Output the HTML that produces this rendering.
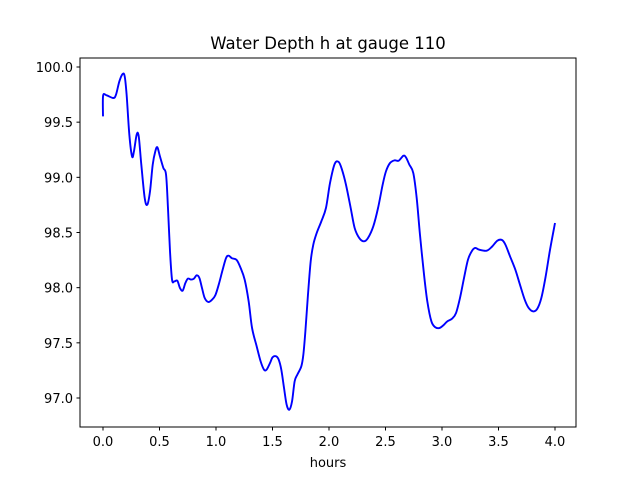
<!DOCTYPE html>
<html><head><meta charset="utf-8"><style>
html,body{margin:0;padding:0;background:#fff;}
svg text{font-family:"DejaVu Sans","Liberation Sans",sans-serif;}
</style></head><body>
<svg id="chart" width="640" height="480" xmlns="http://www.w3.org/2000/svg">
<rect x="0" y="0" width="640" height="480" fill="#fff"/>
<text x="328" y="49" font-size="16.5" text-anchor="middle">Water Depth h at gauge 110</text>
<g id="xticks"></g>
<g id="yticks"></g>
<path id="series" fill="none" stroke="#0000ff" stroke-width="1.9" stroke-linejoin="round"/>
<rect x="80" y="58" width="496" height="369" fill="none" stroke="#000" stroke-width="1"/>
<text x="328" y="467" font-size="13" text-anchor="middle">hours</text>
</svg>
<script>
const hours = [0,0.001,0.032,0.091,0.115,0.145,0.174,0.192,0.209,0.233,0.257,0.274,0.298,0.316,0.339,0.369,0.392,0.416,0.44,0.463,0.481,0.504,0.534,0.558,0.575,0.593,0.611,0.631,0.658,0.681,0.705,0.729,0.752,0.779,0.805,0.829,0.853,0.876,0.9,0.932,0.965,0.994,1.024,1.059,1.089,1.112,1.142,1.183,1.218,1.254,1.289,1.319,1.36,1.395,1.425,1.448,1.478,1.501,1.531,1.555,1.578,1.602,1.625,1.649,1.673,1.696,1.72,1.755,1.773,1.791,1.814,1.838,1.861,1.891,1.932,1.973,2.009,2.05,2.086,2.115,2.15,2.192,2.227,2.268,2.31,2.345,2.392,2.434,2.475,2.504,2.54,2.581,2.617,2.658,2.681,2.711,2.746,2.776,2.805,2.841,2.87,2.906,2.941,2.976,3.012,3.047,3.089,3.124,3.159,3.195,3.23,3.266,3.295,3.33,3.395,3.443,3.49,3.531,3.561,3.602,3.649,3.69,3.732,3.767,3.808,3.844,3.879,3.915,3.956,4.0];
const depth = [99.553,99.74,99.743,99.719,99.749,99.87,99.937,99.915,99.749,99.387,99.19,99.236,99.387,99.372,99.115,98.813,98.752,98.873,99.115,99.236,99.272,99.19,99.085,99.024,98.722,98.329,98.072,98.057,98.063,97.997,97.973,98.042,98.082,98.073,98.082,98.112,98.088,97.997,97.906,97.87,97.891,97.931,98.027,98.163,98.269,98.29,98.266,98.251,98.178,98.072,97.876,97.635,97.468,97.332,97.257,97.257,97.317,97.369,97.378,97.347,97.257,97.091,96.94,96.894,96.97,97.151,97.212,97.287,97.393,97.604,97.937,98.239,98.39,98.495,98.601,98.722,98.949,99.121,99.139,99.069,98.934,98.722,98.541,98.45,98.42,98.45,98.556,98.722,98.934,99.054,99.13,99.154,99.151,99.196,99.181,99.115,99.039,98.813,98.48,98.118,97.876,97.695,97.641,97.634,97.659,97.695,97.719,97.77,97.906,98.088,98.254,98.335,98.36,98.344,98.335,98.372,98.426,98.432,98.39,98.284,98.163,98.027,97.891,97.816,97.785,97.81,97.906,98.088,98.344,98.586];
const xTickValues = [0,0.5,1,1.5,2,2.5,3,3.5,4];
const xTickLabels = ["0.0","0.5","1.0","1.5","2.0","2.5","3.0","3.5","4.0"];
const yTickValues = [97,97.5,98,98.5,99,99.5,100];
const yTickLabels = ["97.0","97.5","98.0","98.5","99.0","99.5","100.0"];

const NS = "http://www.w3.org/2000/svg";
function xs(v){ return 103 + v*113; }
function ys(v){ return 67 + (100 - v)*110.333; }

const xg = document.getElementById('xticks');
xTickValues.forEach((v,i)=>{
  const l = document.createElementNS(NS,'line');
  l.setAttribute('x1',xs(v)); l.setAttribute('x2',xs(v));
  l.setAttribute('y1',427); l.setAttribute('y2',430.5);
  l.setAttribute('stroke','#000');
  
  
  xg.appendChild(l);
  const t = document.createElementNS(NS,'text');
  t.setAttribute('x',xs(v)); t.setAttribute('y',446);
  t.setAttribute('font-size','13'); t.setAttribute('text-anchor','middle');
  t.textContent = xTickLabels[i];
  
  
  xg.appendChild(t);
});
const yg = document.getElementById('yticks');
yTickValues.forEach((v,i)=>{
  const l = document.createElementNS(NS,'line');
  l.setAttribute('x1',76.5); l.setAttribute('x2',80);
  l.setAttribute('y1',ys(v)); l.setAttribute('y2',ys(v));
  l.setAttribute('stroke','#000');
  
  
  yg.appendChild(l);
  const t = document.createElementNS(NS,'text');
  t.setAttribute('x',73); t.setAttribute('y',ys(v)+5);
  t.setAttribute('font-size','13'); t.setAttribute('text-anchor','end');
  t.textContent = yTickLabels[i];
  
  
  yg.appendChild(t);
});

const pts = hours.map((h,i)=>[xs(h),ys(depth[i])]);
let d = 'M'+pts[0][0].toFixed(2)+','+pts[0][1].toFixed(2);
for(let i=0;i<pts.length-1;i++){
  const p0 = pts[Math.max(0,i-1)], p1 = pts[i], p2 = pts[i+1], p3 = pts[Math.min(pts.length-1,i+2)];
  const c1x = p1[0]+(p2[0]-p0[0])/6, c1y = p1[1]+(p2[1]-p0[1])/6;
  const c2x = p2[0]-(p3[0]-p1[0])/6, c2y = p2[1]-(p3[1]-p1[1])/6;
  d += ' C'+c1x.toFixed(2)+','+c1y.toFixed(2)+' '+c2x.toFixed(2)+','+c2y.toFixed(2)+' '+p2[0].toFixed(2)+','+p2[1].toFixed(2);
}
document.getElementById('series').setAttribute('d',d);
</script>
</body></html>
